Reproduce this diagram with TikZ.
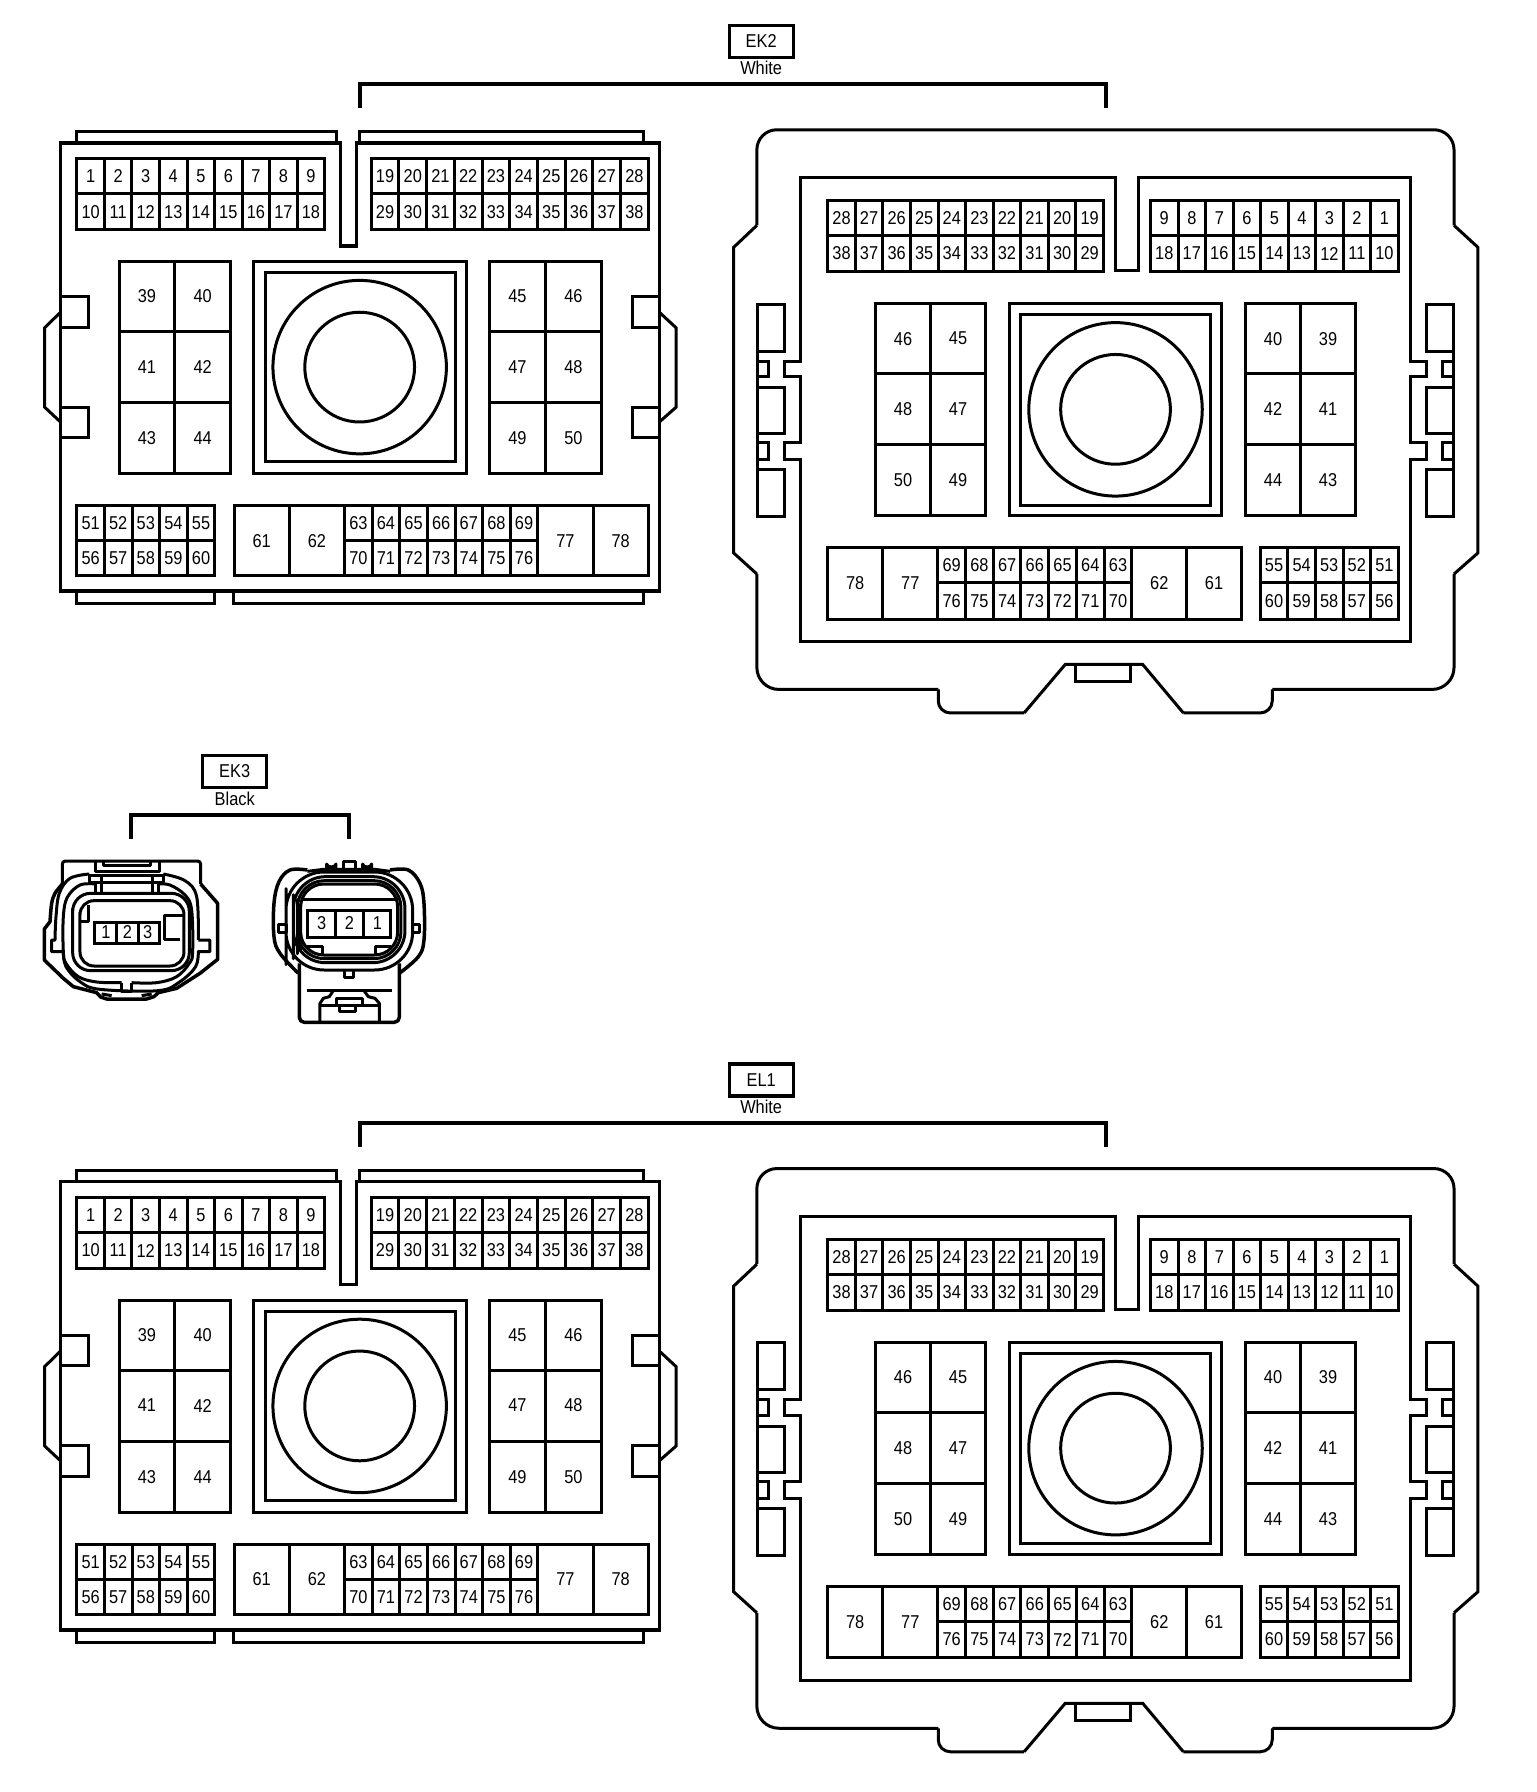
\documentclass[tikz,border=0pt]{standalone}
\usepackage{fontspec}
\setmainfont[FakeStretch=0.88]{Liberation Sans}
\tikzset{
  every node/.style={inner sep=0pt,outer sep=0pt,font=\fontsize{18.6}{20}\selectfont},
  ln/.style={line width=3pt,line join=miter,line cap=butt},
  heavyln/.style={line width=3.5pt,line join=miter},
  thinln/.style={line width=3pt,line join=miter},
  pinlabel/.style={anchor=center},
  tagbox/.style={draw,line width=3.3pt,minimum width=64pt,minimum height=32pt},
}
% cells: prefix, x0, x1, y0, y1, cols, list
\newcommand\cellgrid[7]{%
  \pgfmathsetmacro\cw{(#3-#2)/#6}%
  \foreach \t [count=\i from 0] in {#7}{%
    \pgfmathsetmacro\xa{#2+\i*\cw}\pgfmathsetmacro\xb{\xa+\cw}%
    \draw[thinln] (\xa,#4) rectangle (\xb,#5);
    \node[pinlabel] (#1-\t) at ({(\xa+\xb)/2},{(#4+#5)/2}) {\t};
  }}
\newcommand\ringset[3]{%
  \draw[ln] (#2,#3) circle[radius=88.5];
  \draw[ln] (#2,#3) circle[radius=56];}
\newcommand\conA[1]{%
  \draw[heavyln] (61.5,145.8) -- (347.4,145.8) -- (347.4,250.8) -- (363.8,250.8) -- (363.8,145.8) -- (673,145.8) -- (673,603.3) -- (61.5,603.3) -- cycle;
  \draw[ln] (77.9,145.8) |- (343.6,134.2) -- (343.6,145.8);
  \draw[ln] (367,145.8) |- (656.8,134.2) -- (656.8,145.8);
  \draw[ln] (78.4,603.3) |- (219.2,615.8) -- (219.2,603.3);
  \draw[ln] (238,603.3) |- (656.8,615.8) -- (656.8,603.3);
  \draw[ln] (61.5,302.9) -| (90,333.8) -- (61.5,333.8);
  \draw[ln] (61.5,415.4) -| (90,446.3) -- (61.5,446.3);
  \draw[ln] (673,302.9) -| (645,333.8) -- (673,333.8);
  \draw[ln] (673,415.4) -| (645,446.3) -- (673,446.3);
  \draw[ln] (61.5,318.8) -- (45.5,334.6) -- (45.5,415.4) -- (61.5,430.4);
  \draw[ln] (673,318.8) -- (690,334.6) -- (690,415.4) -- (673,430.4);
  \cellgrid{#1}{78.4}{331.4}{161.7}{197.5}{9}{1,2,3,4,5,6,7,8,9}
  \cellgrid{#1}{78.4}{331.4}{197.5}{234.6}{9}{10,11,12,13,14,15,16,17,18}
  \cellgrid{#1}{378.8}{661.5}{161.7}{197.5}{10}{19,20,21,22,23,24,25,26,27,28}
  \cellgrid{#1}{378.8}{661.5}{197.5}{234.6}{10}{29,30,31,32,33,34,35,36,37,38}
  \cellgrid{#1}{121.5}{235.2}{266.7}{338}{2}{39,40}
  \cellgrid{#1}{121.5}{235.2}{338}{410.4}{2}{41,42}
  \cellgrid{#1}{121.5}{235.2}{410.4}{483.3}{2}{43,44}
  \cellgrid{#1}{499.5}{613.6}{266.7}{338}{2}{45,46}
  \cellgrid{#1}{499.5}{613.6}{338}{410.4}{2}{47,48}
  \cellgrid{#1}{499.5}{613.6}{410.4}{483.3}{2}{49,50}
  \draw[ln] (258.2,266.7) rectangle (476,483.3);
  \draw[ln] (270.8,278) rectangle (464.3,471.3);
  \ringset{#1}{367}{374.6}
  \cellgrid{#1}{78.4}{219.2}{515.8}{551.3}{5}{51,52,53,54,55}
  \cellgrid{#1}{78.4}{219.2}{551.3}{587.5}{5}{56,57,58,59,60}
  \cellgrid{#1}{238.9}{351.6}{515.8}{587.5}{2}{61,62}
  \cellgrid{#1}{351.6}{548.8}{515.8}{551.3}{7}{63,64,65,66,67,68,69}
  \cellgrid{#1}{351.6}{548.8}{551.3}{587.5}{7}{70,71,72,73,74,75,76}
  \cellgrid{#1}{548.8}{661.5}{515.8}{587.5}{2}{77,78}
}
\newcommand\sidebits[1]{%
  \begin{scope}[#1]
  \draw[ln] (772.8,310.2) rectangle (800.3,358.2);
  \draw[ln] (772.8,395.2) rectangle (800.3,442.1);
  \draw[ln] (772.8,478.9) rectangle (800.3,527.2);
  \draw[ln] (772.8,368.4) rectangle (784.4,384.4);
  \draw[ln] (772.8,451.3) rectangle (784.4,468.7);
  \draw[ln] (772.8,310.2) -- (772.8,527.2);
  \end{scope}}
\newcommand\conB[1]{%
  \draw[ln,rounded corners=20pt] (772.3,230) -- (772.3,132.4) -- (1483.7,132.4) -- (1483.7,230);
  \draw[ln] (772.3,230) -- (748.7,252.3) -- (748.7,564.3) -- (772.3,585.7);
  \draw[ln] (1483.7,230) -- (1508,252.3) -- (1508,564.3) -- (1483.7,585.7);
  \draw[ln,rounded corners=22pt] (772.3,585.7) -- (772.3,703.5) -- (957.4,703.5);
  \draw[ln,rounded corners=22pt] (1483.7,585.7) -- (1483.7,703.5) -- (1298.2,703.5);
  \draw[ln,rounded corners=12pt] (957.4,703.5) -- (957.4,727.5) -- (1045,727.5);
  \draw[ln,rounded corners=12pt] (1298.2,703.5) -- (1298.2,727.5) -- (1207.5,727.5);
  \draw[ln] (1045,727.5) -- (1087,678) -- (1166,678) -- (1207.5,727.5);
  \draw[ln] (1097.4,678) |- (1154,695.3) -- (1154,678);
  \draw[ln] (816.8,181) -- (1138.3,181) -- (1138.3,276.3) -- (1161.9,276.3) -- (1161.9,181) -- (1439.2,181)
     -- (1439.2,368.4) -- (1456,368.4) -- (1456,384.4) -- (1439.2,384.4) -- (1439.2,451.3) -- (1456,451.3) -- (1456,468.7) -- (1439.2,468.7)
     -- (1439.2,654.5) -- (816.8,654.5) -- (816.8,468.7) -- (800,468.7) -- (800,451.3) -- (816.8,451.3) -- (816.8,384.4) -- (800,384.4) -- (800,368.4) -- (816.8,368.4) -- cycle;
  \sidebits{}
  \sidebits{xscale=-1,xshift=-2210.88pt}
  \cellgrid{#1}{844.6}{1126}{204.6}{240.7}{10}{28,27,26,25,24,23,22,21,20,19}
  \cellgrid{#1}{844.6}{1126}{240.7}{276.8}{10}{38,37,36,35,34,33,32,31,30,29}
  \cellgrid{#1}{1174}{1426.7}{204.6}{240.7}{9}{9,8,7,6,5,4,3,2,1}
  \cellgrid{#1}{1174}{1426.7}{240.7}{276.8}{9}{18,17,16,15,14,13,12,11,10}
  \cellgrid{#1}{893.4}{1005.6}{309.4}{381.6}{2}{46,45}
  \cellgrid{#1}{893.4}{1005.6}{381.6}{453.8}{2}{48,47}
  \cellgrid{#1}{893.4}{1005.6}{453.8}{526}{2}{50,49}
  \cellgrid{#1}{1271}{1383.2}{309.4}{381.6}{2}{40,39}
  \cellgrid{#1}{1271}{1383.2}{381.6}{453.8}{2}{42,41}
  \cellgrid{#1}{1271}{1383.2}{453.8}{526}{2}{44,43}
  \draw[ln] (1029.7,309.4) rectangle (1246.3,526);
  \draw[ln] (1041.3,320.6) rectangle (1234.8,515.3);
  \ringset{#1}{1138.3}{417.7}
  \cellgrid{#1}{844.6}{956.9}{558.7}{631.7}{2}{78,77}
  \cellgrid{#1}{956.9}{1155}{558.7}{594.3}{7}{69,68,67,66,65,64,63}
  \cellgrid{#1}{956.9}{1155}{594.3}{631.7}{7}{76,75,74,73,72,71,70}
  \cellgrid{#1}{1155}{1266.8}{558.7}{631.7}{2}{62,61}
  \cellgrid{#1}{1286}{1426.7}{558.7}{594.3}{5}{55,54,53,52,51}
  \cellgrid{#1}{1286}{1426.7}{594.3}{631.7}{5}{60,59,58,57,56}
}
\newcommand\bracket[3]{% prefix, tag, colour
  \node[tagbox] (#1-tag) at (776.7,42) {#2};
  \node (#1-col) at (776.7,69.7) {#3};
  \coordinate (#1-l) at (367,110);
  \coordinate (#1-r) at (1129,110);
  \draw[line width=4pt,line join=miter] (#1-l) -- (367,85.7) -- (1129,85.7) -- (#1-r);
}
\begin{document}
\begin{tikzpicture}[x=.98pt,y=-.98pt]
\useasboundingbox (0,0) rectangle (1567.35,1828.57);
\fill[white] (0,0) rectangle (1567.35,1828.57);
% EK2
\bracket{ek2}{EK2}{White}
\conA{ek2a}
\conB{ek2b}
% EL1
\begin{scope}[shift={(0,1060)}]
\bracket{el1}{EL1}{White}
\conA{el1a}
\conB{el1b}
\end{scope}
% EK3
\node[tagbox] (ek3-tag) at (239.5,787.3) {EK3};
\node (ek3-col) at (239.5,815) {Black};
\coordinate (ek3-l) at (133.5,856);
\coordinate (ek3-r) at (356.5,856);
\draw[line width=4pt,line join=miter] (ek3-l) -- (133.5,831.6) -- (356.5,831.6) -- (ek3-r);
% left plug
\begin{scope}[shift={(30.61,877.55)},x=.3333pt,y=-.3333pt,line width=3pt,line join=round]
 \draw[rounded corners=3pt] (97,72) -- (97,3) -- (512,3) -- (512,72);
 \draw (197,3) -- (197,35) -- (388,35) -- (388,3);
 \draw (222,3) -- (222,15) -- (362,15) -- (362,3);
 \draw[line width=3.5pt] plot[smooth,tension=.5] coordinates {(97,72) (75,100) (65,130) (60,185)} -- (43,207) -- (43,300) -- (100,355) -- (130,380) -- (200,398) -- (212,411) -- (230,417) -- (350,417) -- (372,410) -- (385,398) -- (440,385) -- (510,340) -- (563,298) -- (563,130) -- (512,72);
 \draw (215,402) -- (245,407) (335,407) -- (365,402);
 \draw plot[smooth,tension=.6] coordinates {(178,42) (120,55) (88,100) (78,170) (75,240)} -- (65,240) -- (65,275) -- (100,275);
 \draw plot[smooth,tension=.6] coordinates {(100,275) (108,320) (150,365) (210,388) (385,392) (450,365) (497,320) (505,275)} -- (540,275) -- (540,240) -- (505,240);
 \draw plot[smooth,tension=.6] coordinates {(505,240) (500,110) (465,62) (400,42)};
 \draw plot[smooth,tension=.6] coordinates {(197,72) (150,75) (112,112) (100,170) (100,275) (108,310) (145,350) (200,366) (275,368)};
 \draw plot[smooth,tension=.6] coordinates {(305,368) (380,368) (440,350) (478,310) (488,275) (485,150) (465,105) (420,75) (385,72)};
 \draw (275,368) -- (275,395) -- (305,395) -- (305,368);
 \draw[rounded corners=18pt] (128,200) -- (128,100) -- (478,100) -- (478,332) -- (128,332) -- cycle;
 \draw[rounded corners=14pt] (150,200) -- (150,122) -- (462,122) -- (462,318) -- (150,318) -- cycle;
 \draw (178,45) rectangle (215,68);
 \draw (368,45) rectangle (400,68);
 \draw (215,45) -- (368,45) (215,68) -- (368,68);
 \draw (197,68) -- (197,100) (215,68) -- (215,100) (368,68) -- (368,100) (385,68) -- (385,100);
 \draw (175,135) -- (175,185) -- (152,185);
 \draw (462,165) -- (405,165) -- (405,237) -- (450,237);
 \draw[thinln] (195,187) rectangle (260,250);
 \draw[thinln] (260,187) rectangle (325,250);
 \draw[thinln] (325,187) rectangle (388,250);
 \node[pinlabel] (ek3a-1) at (228,217) {1};
 \node[pinlabel] (ek3a-2) at (292,217) {2};
 \node[pinlabel] (ek3a-3) at (353,217) {3};
\end{scope}
% right plug
\begin{scope}[shift={(275.51,877.55)},x=.3333pt,y=-.3333pt,line width=3pt,line join=round]
 \draw (170,28) -- (170,12) arc[start angle=180,end angle=0,x radius=14,y radius=9] -- (198,28);
 \draw (222,28) -- (222,3) -- (258,3) -- (258,28);
 \draw (278,28) -- (278,12) arc[start angle=180,end angle=0,x radius=13.5,y radius=9] -- (305,28);
 \draw (112,34) -- (160,28) -- (315,28) -- (360,34);
 \draw[line width=3.5pt] plot[smooth,tension=.6] coordinates {(112,30) (60,30) (27,65) (12,130) (12,230) (30,280) (85,340)};
 \draw[line width=3.5pt] plot[smooth,tension=.6] coordinates {(360,30) (415,30) (450,70) (462,130) (462,240) (445,290) (388,340)};
 \draw[rounded corners=38pt] (48,200) -- (48,36) -- (428,36) -- (428,330) -- (48,330) -- cycle;
 \draw[rounded corners=32pt] (70,200) -- (70,50) -- (405,50) -- (405,308) -- (70,308) -- cycle;
 \draw[rounded corners=27pt] (82,200) -- (82,62) -- (393,62) -- (393,296) -- (82,296) -- cycle;
 \draw[rounded corners=23pt] (92,200) -- (92,72) -- (383,72) -- (383,285) -- (92,285) -- cycle;
 \draw (25,192) rectangle (48,218);
 \draw (428,192) rectangle (450,218);
 \draw (92,118) -- (383,118);
 \draw[thinln] (112,150) rectangle (198,233);
 \draw[thinln] (198,150) rectangle (282,233);
 \draw[thinln] (282,150) rectangle (362,233);
 \node[pinlabel] (ek3b-3) at (155,190) {3};
 \node[pinlabel] (ek3b-2) at (238,190) {2};
 \node[pinlabel] (ek3b-1) at (322,190) {1};
 \draw (112,260) -- (158,260) -- (158,285);
 \draw (362,260) -- (318,260) -- (318,285);
 \draw[line width=3.5pt,rounded corners=5pt] (88,310) -- (88,487) -- (388,487) -- (388,310);
 \draw (225,330) -- (225,352) -- (252,352) -- (252,330);
 \draw (110,390) -- (365,390);
 \draw (150,485) -- (150,430) -- (160,415) -- (178,410) -- (190,392);
 \draw (282,392) -- (295,410) -- (315,415) -- (328,430) -- (328,485);
 \draw (150,437) -- (200,437) -- (200,415) -- (278,415) -- (278,437) -- (328,437);
 \draw (200,437) -- (278,437);
 \draw (210,437) -- (210,455) -- (258,455) -- (258,437);
\end{scope}
\end{tikzpicture}
\end{document}
